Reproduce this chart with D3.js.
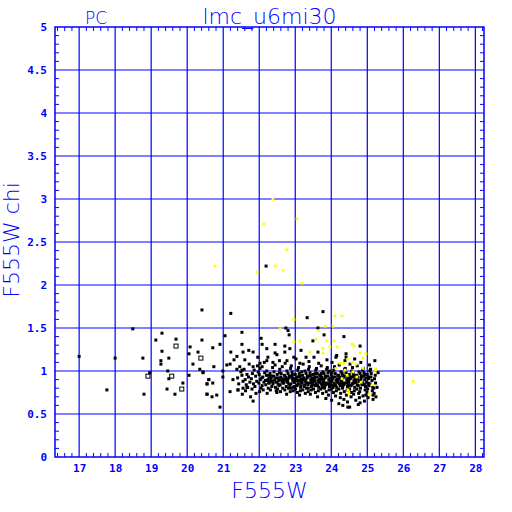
<!DOCTYPE html>
<html>
<head>
<meta charset="utf-8">
<script src="https://cdn.jsdelivr.net/npm/d3@7"></script>
<style>
  body { margin: 0; background: #fff; }
  svg { display: block; }
</style>
</head>
<body>
<div id="wrapper"></div>
<script>
// tick labels
const xTicks = [17, 18, 19, 20, 21, 22, 23, 24, 25, 26, 27, 28];
const yTicks = [0, 0.5, 1, 1.5, 2, 2.5, 3, 3.5, 4, 4.5, 5];

// sparse black stars (F555W, chi)
const sparsePts = [
  [20.41,1.71],[18.49,1.49],[19.30,1.44],[19.13,1.36],[19.69,1.37],[20.41,1.36],[20.08,1.28],
  [19.30,1.23],[20.05,1.20],[20.30,1.22],[17.00,1.17],[18.00,1.15],[18.77,1.15],[19.27,1.12],
  [19.27,1.08],[19.49,1.15],[20.16,1.08],[20.35,1.02],[19.46,1.00],[18.96,0.98],[20.44,0.98],
  [19.49,0.91],[20.05,0.95],[20.60,0.90],[19.88,0.86],[20.55,0.85],[17.77,0.78],[19.44,0.79],
  [18.80,0.73],[19.66,0.73],[20.55,0.73],
  [21.21,1.67],[23.77,1.69],[23.33,1.62],[22.74,1.50],[23.63,1.50],[22.80,1.47],[21.52,1.45],
  [21.05,1.41],[22.05,1.38],[22.83,1.42],[23.80,1.42],[24.35,1.40],[20.91,1.31],[21.52,1.31],
  [22.08,1.31],[22.44,1.31],[22.71,1.29],[23.49,1.35],[20.71,1.27],[21.21,1.22],[21.55,1.22],
  [21.71,1.24],[21.83,1.22],[22.21,1.26],[22.44,1.21],[22.71,1.22],[22.85,1.26],[23.16,1.24],
  [23.63,1.22],[21.38,1.17],[21.96,1.16],[22.24,1.16],[22.49,1.19],[22.96,1.16],[23.30,1.16],
  [24.13,1.16],[24.41,1.16],[21.30,1.13],[21.60,1.13],[22.21,1.12],[22.02,1.09],[22.38,1.10],
  [22.77,1.12],[23.13,1.09],[21.19,1.08],[21.10,1.07],[21.83,1.05],[22.08,1.05],[20.74,1.05],
  [20.44,0.99],[21.38,1.02],[21.52,1.01],[20.99,1.00],[20.60,0.90],[20.99,0.93],[21.27,0.90],
  [20.71,0.86],[20.55,0.85],[21.41,0.78],[21.19,0.76],[20.55,0.73],[20.69,0.70],[20.82,0.72],
  [20.91,0.58],[21.83,0.65],[21.55,0.80],[21.66,0.81],[22.19,2.22],
  [24.80,1.29],[25.21,1.12],[25.30,0.98],[25.27,0.81],[25.16,0.67],[25.24,0.70],[24.46,0.58],
  [24.32,0.60],[24.80,0.63]
];

// open squares
const openPts = [[19.69,1.29],[20.38,1.15],[18.91,0.94],[19.57,0.94],[19.85,0.79]];

// main clump of black stars
const clumpPts = [
  [21.40,0.92],[21.43,0.85],[21.46,1.05],[21.41,0.78],[21.52,0.95],[21.55,0.88],[21.49,0.99],[21.53,0.73],
  [21.61,0.90],[21.64,0.84],[21.58,1.02],[21.66,0.96],[21.62,0.77],[21.70,0.93],[21.74,0.87],[21.68,0.81],
  [21.72,1.08],[21.76,0.70],[21.81,0.97],[21.78,0.91],[21.84,0.85],[21.80,0.79],[21.86,1.01],[21.90,0.94],
  [21.93,0.88],[21.88,0.82],[21.95,1.06],[21.91,0.74],[21.97,0.99],[22.00,0.96],[22.03,0.90],[21.99,0.86],
  [22.05,0.80],[22.02,1.03],[22.07,0.92],[22.01,0.76],[22.10,0.93],[22.13,0.87],[22.08,0.83],[22.15,0.98],
  [22.11,0.78],[22.14,1.10],[22.17,0.89],[22.20,0.95],[22.23,0.89],[22.18,0.84],[22.25,0.80],[22.21,1.00],
  [22.27,0.92],[22.22,0.74],[22.26,0.86],[22.30,0.97],[22.33,0.91],[22.28,0.86],[22.35,0.82],[22.31,0.78],
  [22.37,1.04],[22.34,0.94],[22.29,0.88],[22.40,0.94],[22.43,0.90],[22.38,0.85],[22.45,0.81],[22.41,0.99],
  [22.47,0.77],[22.44,1.07],[22.39,0.87],[22.46,0.92],[22.50,0.96],[22.53,0.92],[22.48,0.87],[22.55,0.83],
  [22.51,0.79],[22.57,1.02],[22.54,0.89],[22.49,0.75],[22.56,1.12],[22.60,0.93],[22.63,0.88],[22.58,0.84],
  [22.65,0.80],[22.61,0.97],[22.67,0.91],[22.64,1.05],[22.59,0.76],[22.66,0.86],[22.70,0.95],[22.73,0.90],
  [22.68,0.86],[22.75,0.82],[22.71,0.78],[22.77,1.00],[22.74,0.93],[22.69,0.88],[22.76,0.73],[22.72,1.09],
  [22.80,0.97],[22.83,0.92],[22.78,0.87],[22.85,0.83],[22.81,0.80],[22.87,1.03],[22.84,0.94],[22.79,0.89],
  [22.86,0.76],[22.82,0.85],[22.90,0.94],[22.93,0.89],[22.88,0.85],[22.95,0.81],[22.91,0.99],[22.97,0.91],
  [22.94,0.77],[22.89,1.06],[22.96,0.87],[22.92,0.96],[23.00,0.96],[23.03,0.91],[22.98,0.87],[23.05,0.83],
  [23.01,0.79],[23.07,1.01],[23.04,0.93],[22.99,0.88],[23.06,0.75],[23.02,1.14],[23.08,0.85],[23.10,0.93],
  [23.13,0.89],[23.08,0.85],[23.15,0.81],[23.11,0.97],[23.17,0.91],[23.14,0.77],[23.09,1.04],[23.16,0.87],
  [23.12,0.72],[23.18,0.99],[23.20,0.95],[23.23,0.90],[23.18,0.86],[23.25,0.82],[23.21,0.78],[23.27,1.00],
  [23.24,0.92],[23.19,0.88],[23.26,0.84],[23.22,1.08],[23.28,0.74],[23.30,0.97],[23.33,0.92],[23.28,0.88],
  [23.35,0.84],[23.31,0.80],[23.37,1.02],[23.34,0.94],[23.29,0.89],[23.36,0.76],[23.32,0.86],[23.38,1.11],
  [23.40,0.94],[23.43,0.90],[23.38,0.86],[23.45,0.82],[23.41,0.98],[23.47,0.92],[23.44,0.78],[23.39,1.05],
  [23.46,0.88],[23.42,0.73],[23.48,0.84],[23.50,0.96],[23.53,0.91],[23.48,0.87],[23.55,0.83],[23.51,0.79],
  [23.57,1.01],[23.54,0.93],[23.49,0.89],[23.56,0.75],[23.52,1.16],[23.58,0.85],[23.55,0.97],[23.60,0.93],
  [23.63,0.89],[23.58,0.85],[23.65,0.81],[23.61,0.97],[23.67,0.91],[23.64,0.77],[23.59,1.03],[23.66,0.87],
  [23.62,0.70],[23.68,0.95],[23.65,1.09],[23.70,0.95],[23.73,0.91],[23.68,0.87],[23.75,0.83],[23.71,0.79],
  [23.77,0.99],[23.74,0.93],[23.69,0.88],[23.76,0.74],[23.72,1.06],[23.78,0.85],[23.75,0.81],[23.80,0.97],
  [23.83,0.92],[23.78,0.88],[23.85,0.84],[23.81,0.80],[23.87,1.02],[23.84,0.94],[23.79,0.90],[23.86,0.76],
  [23.82,0.86],[23.88,1.13],[23.85,0.68],[23.90,0.94],[23.93,0.90],[23.88,0.86],[23.95,0.82],[23.91,0.98],
  [23.97,0.92],[23.94,0.78],[23.89,1.04],[23.96,0.88],[23.92,0.72],[23.98,0.84],[23.95,1.00],[24.00,0.96],
  [24.03,0.91],[23.98,0.87],[24.05,0.83],[24.01,0.79],[24.07,1.01],[24.04,0.93],[23.99,0.89],[24.06,0.75],
  [24.02,1.10],[24.08,0.85],[24.05,0.81],[24.01,0.66],[24.10,0.93],[24.13,0.89],[24.08,0.85],[24.15,0.81],
  [24.11,0.97],[24.17,0.91],[24.14,0.77],[24.09,1.05],[24.16,0.87],[24.12,0.71],[24.18,0.95],[24.15,1.18],
  [24.20,0.95],[24.23,0.91],[24.18,0.87],[24.25,0.83],[24.21,0.79],[24.27,0.99],[24.24,0.93],[24.19,0.88],
  [24.26,0.74],[24.22,1.07],[24.28,0.85],[24.25,0.69],[24.21,0.62],[24.30,0.97],[24.33,0.92],[24.28,0.88],
  [24.35,0.84],[24.31,0.80],[24.37,1.02],[24.34,0.94],[24.29,0.90],[24.36,0.76],[24.32,0.86],[24.38,1.12],
  [24.35,0.67],[24.40,0.94],[24.43,0.90],[24.38,0.86],[24.45,0.82],[24.41,0.98],[24.47,0.92],[24.44,0.78],
  [24.39,1.03],[24.46,0.88],[24.42,0.72],[24.48,0.84],[24.45,0.64],[24.41,1.20],[24.50,0.96],[24.53,0.91],
  [24.48,0.87],[24.55,0.83],[24.51,0.79],[24.57,1.00],[24.54,0.93],[24.49,0.89],[24.56,0.75],[24.52,1.08],
  [24.58,0.85],[24.55,0.70],[24.51,0.58],[24.60,0.93],[24.63,0.89],[24.58,0.85],[24.65,0.81],[24.61,0.97],
  [24.67,0.91],[24.64,0.77],[24.59,1.04],[24.66,0.87],[24.62,0.73],[24.68,0.66],[24.65,1.14],[24.70,0.95],
  [24.73,0.91],[24.68,0.87],[24.75,0.83],[24.71,0.79],[24.77,0.99],[24.74,0.93],[24.69,0.88],[24.76,0.74],
  [24.72,1.06],[24.78,0.69],[24.75,0.61],[24.80,0.97],[24.83,0.92],[24.78,0.88],[24.85,0.84],[24.81,0.80],
  [24.87,1.01],[24.84,0.94],[24.79,0.76],[24.86,0.86],[24.82,1.10],[24.88,0.71],[24.90,0.94],[24.93,0.90],
  [24.88,0.86],[24.95,0.82],[24.91,0.98],[24.97,0.92],[24.94,0.78],[24.89,1.03],[24.96,0.72],[24.92,0.65],
  [25.00,0.96],[25.03,0.91],[24.98,0.87],[25.05,0.83],[25.01,0.79],[25.07,1.00],[25.04,0.93],[24.99,0.75],
  [25.06,1.07],[25.02,0.69],[25.10,0.93],[25.13,0.89],[25.08,0.85],[25.15,0.81],[25.11,0.97],[25.14,0.77],
  [25.09,1.02],[25.16,0.72],[25.20,0.91],[25.23,0.86],[25.18,0.80],[25.22,0.95],[25.19,0.74],
  // extra fill in the core band
  [22.24,0.90],[22.36,0.88],[22.52,0.85],[22.62,0.90],[22.78,0.91],[22.88,0.80],[22.98,0.82],[23.06,0.89],
  [23.16,0.83],[23.26,0.90],[23.36,0.80],[23.44,0.86],[23.54,0.88],[23.62,0.83],[23.72,0.85],[23.82,0.82],
  [23.92,0.85],[24.02,0.88],[24.12,0.83],[24.22,0.85],[24.32,0.82],[24.42,0.86],[24.52,0.83],[24.62,0.86],
  [24.72,0.84],[24.82,0.89],[24.92,0.84],[25.02,0.86],[23.12,0.94],[23.42,0.95],[23.72,0.97],[24.02,0.98],
  [24.32,0.95],[24.62,0.95],[24.92,0.96],[22.92,0.92],[22.56,0.98],[22.28,0.95]
];

// yellow points
const yellowPts = [
  [22.38,3.00],[22.13,2.71],[23.05,2.77],[22.77,2.41],[20.77,2.22],[22.44,2.22],[22.66,2.17],
  [21.94,2.15],[23.19,2.02],
  [22.96,1.60],[22.58,1.49],[24.10,1.64],[24.30,1.64],[23.83,1.52],[24.05,1.52],[23.66,1.47],
  [23.13,1.35],[22.96,1.34],[23.58,1.37],[23.88,1.35],[24.08,1.35],[23.41,1.22],[23.77,1.26],
  [23.77,1.21],[23.96,1.28],[24.16,1.28],[24.24,1.09],[24.35,1.09],[24.46,1.14],[24.38,1.01],
  [24.44,0.95],[24.30,0.91],[24.46,0.78],[24.13,1.03],
  [24.58,1.31],[24.63,1.29],[24.80,1.21],[24.96,1.20],[24.58,1.10],[24.88,1.15],[24.69,1.08],
  [24.88,1.03],[25.21,1.01],[25.24,1.02],[24.60,0.99],[24.71,0.93],[26.27,0.88],[24.49,0.74],
  [25.05,0.73],[25.13,0.84],[24.83,0.87]
];

const W = 512, H = 512;
const mLeft = 55, mRight = 484, mTop = 27, mBottom = 457;

const svg = d3.select('#wrapper').append('svg')
  .attr('width', W).attr('height', H)
  .style('background', '#fff');

const xscale = d3.scaleLinear().domain([16.33, 28.24]).range([mLeft, mRight]);
const yscale = d3.scaleLinear().domain([0, 5]).range([mBottom, mTop]);

const blue = '#0000ff';

// grid lines
svg.append('g').selectAll('line').data(xTicks).enter().append('line')
  .attr('x1', d => xscale(d)).attr('x2', d => xscale(d))
  .attr('y1', mTop).attr('y2', mBottom)
  .attr('stroke', blue).attr('stroke-width', 1.2);
svg.append('g').selectAll('line').data(yTicks.filter(d => d > 0 && d < 5)).enter().append('line')
  .attr('x1', mLeft).attr('x2', mRight)
  .attr('y1', d => yscale(d)).attr('y2', d => yscale(d))
  .attr('stroke', blue).attr('stroke-width', 1.2);

// minor ticks
const xMinor = d3.range(16.4, 28.21, 0.2).filter(v => Math.abs(v - Math.round(v)) > 0.01);
const yMinor = d3.range(0.1, 5, 0.1).filter(v => Math.abs(v * 2 - Math.round(v * 2)) > 0.01);
const minor = svg.append('g').attr('stroke', blue).attr('stroke-width', 1);
minor.append('g').selectAll('line').data(xMinor).enter().append('line')
  .attr('x1', d => xscale(d)).attr('x2', d => xscale(d)).attr('y1', mBottom).attr('y2', mBottom - 4);
minor.append('g').selectAll('line').data(xMinor).enter().append('line')
  .attr('x1', d => xscale(d)).attr('x2', d => xscale(d)).attr('y1', mTop).attr('y2', mTop + 4);
minor.append('g').selectAll('line').data(yMinor).enter().append('line')
  .attr('x1', mLeft).attr('x2', mLeft + 4).attr('y1', d => yscale(d)).attr('y2', d => yscale(d));
minor.append('g').selectAll('line').data(yMinor).enter().append('line')
  .attr('x1', mRight).attr('x2', mRight - 4).attr('y1', d => yscale(d)).attr('y2', d => yscale(d));

// frame
svg.append('rect')
  .attr('x', mLeft).attr('y', mTop).attr('width', mRight - mLeft).attr('height', mBottom - mTop)
  .attr('fill', 'none').attr('stroke', blue).attr('stroke-width', 1.5);

// tick labels via axes
const xAxis = d3.axisBottom(xscale).tickValues(xTicks).tickSize(0).tickPadding(7).tickFormat(d3.format('d'));
const yAxis = d3.axisLeft(yscale).tickValues(yTicks).tickSize(0).tickPadding(8).tickFormat(d => d);

const gx = svg.append('g').attr('transform', `translate(0,${mBottom})`).call(xAxis);
const gy = svg.append('g').attr('transform', `translate(${mLeft},0)`).call(yAxis);
[gx, gy].forEach(g => {
  g.select('.domain').remove();
  g.selectAll('text')
    .style('font-family', '"DejaVu Sans Mono", monospace')
    .style('font-weight', 'bold')
    .style('font-size', '11px')
    .attr('fill', blue);
});

// points
const s = 3;
svg.append('g').selectAll('rect').data(sparsePts.concat(clumpPts)).enter().append('rect')
  .attr('x', d => xscale(d[0]) - s / 2).attr('y', d => yscale(d[1]) - s / 2)
  .attr('width', s).attr('height', s).attr('fill', '#000');
svg.append('g').selectAll('rect').data(openPts).enter().append('rect')
  .attr('x', d => xscale(d[0]) - 2).attr('y', d => yscale(d[1]) - 2)
  .attr('width', 4).attr('height', 4).attr('fill', 'none').attr('stroke', '#000').attr('stroke-width', 1);
svg.append('g').selectAll('rect').data(yellowPts).enter().append('rect')
  .attr('x', d => xscale(d[0]) - 1.4).attr('y', d => yscale(d[1]) - 1.4)
  .attr('width', 2.8).attr('height', 2.8).attr('fill', '#ffff00');

// titles
const font = '"DejaVu Sans", sans-serif';
svg.append('text').attr('x', (mLeft + mRight) / 2).attr('y', 24).attr('text-anchor', 'middle')
  .style('font-family', font).style('font-size', '22px').style('font-weight', 200)
  .attr('fill', blue).text('lmc_u6mi30');
svg.append('text').attr('x', 85).attr('y', 24)
  .style('font-family', font).style('font-size', '17px').style('font-weight', 200)
  .attr('fill', blue).text('PC');
svg.append('text').attr('x', (mLeft + mRight) / 2).attr('y', 498).attr('text-anchor', 'middle')
  .style('font-family', font).style('font-size', '22px').style('font-weight', 200)
  .attr('fill', blue).text('F555W');
svg.append('text').attr('transform', 'translate(19,240) rotate(-90)').attr('text-anchor', 'middle')
  .style('font-family', font).style('font-size', '22px').style('font-weight', 200)
  .attr('fill', blue).text('F555W  chi');
</script>
</body>
</html>
